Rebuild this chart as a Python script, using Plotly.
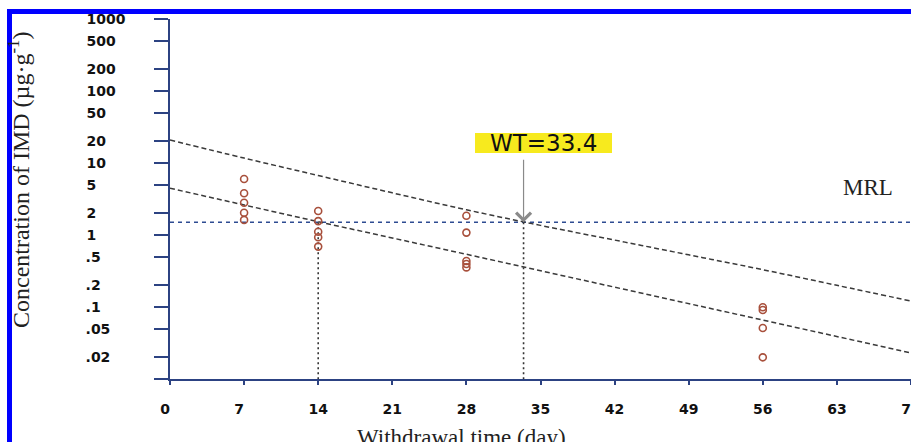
import math
import plotly.graph_objects as go

# ---------------- data ----------------
obs_day = [7, 7, 7, 7, 7, 14, 14, 14, 14, 14, 28, 28, 28, 28, 28, 56, 56, 56, 56]
obs_conc = [6.0, 3.8, 2.8, 2.04, 1.62,
            2.15, 1.56, 1.11, 0.93, 0.69,
            1.85, 1.08, 0.435, 0.395, 0.355,
            0.099, 0.091, 0.051, 0.020]

fit_day = [0, 14, 28, 42, 56, 70]
fit_conc = [4.46, 1.53, 0.54, 0.19, 0.066, 0.023]

upper_day = [0, 7, 14, 21, 28, 35, 42, 49, 56, 63, 70]
upper_conc = [20.8, 11.7, 6.7, 3.85, 2.24, 1.36, 0.85, 0.53, 0.33, 0.20, 0.121]

mrl_value = 1.5
wt_day = 33.4
fit_cross_day = 14
wt_label = "WT=33.4"
mrl_label = "MRL"

x_tick_vals = [0, 7, 14, 21, 28, 35, 42, 49, 56, 63, 70]
y_tick_vals = [0.01, 0.02, 0.05, 0.1, 0.2, 0.5, 1, 2, 5, 10, 20, 50, 100, 200, 500, 1000]
y_tick_labels = ["", ".02", ".05", ".1", ".2", ".5", "1", "2", "5", "10", "20", "50",
                 "100", "200", "500", "1000"]

x_title = "Withdrawal time (day)"
y_title = "Concentration of IMD (µg·g<sup>-1</sup>)"

# ---------------- styling helpers ----------------
FS = "\u2007"  # figure space (digit width)
PS = "\u2008"  # punctuation space (period width)


def pad_left_aligned(lbl, width=4):
    if not lbl:
        return lbl
    digits = sum(c.isdigit() for c in lbl)
    if "." in lbl:
        return lbl + FS * (width - digits - 1) + PS
    return lbl + FS * (width - digits)


y_text = [pad_left_aligned(t) for t in y_tick_labels]
x_text = [str(v) + (FS if v < 10 else "") for v in x_tick_vals]

W, H = 911, 442
ML, MR, MT, MB = 170, 0, 19, 63
PW, PH = W - ML - MR, H - MT - MB


def px(xp):
    return (xp - ML) / PW


def py(yp):
    return (H - MB - yp) / PH


axis_col = "#2c4282"
tick_font = dict(family="DejaVu Sans", size=14, color="#111111", weight="bold")

fig = go.Figure()

# MRL horizontal line
fig.add_trace(go.Scatter(x=[x_tick_vals[0], x_tick_vals[-1]], y=[mrl_value, mrl_value],
                         mode="lines", line=dict(color="#2e4c92", width=1.5, dash="4px,4px"),
                         hoverinfo="skip", showlegend=False))
# vertical dotted drops
for d in (fit_cross_day, wt_day):
    fig.add_trace(go.Scatter(x=[d, d], y=[mrl_value, y_tick_vals[0]], mode="lines",
                             line=dict(color="#333333", width=1.6, dash="2px,3px"),
                             hoverinfo="skip", showlegend=False))
# regression and upper tolerance lines
fig.add_trace(go.Scatter(x=fit_day, y=fit_conc, mode="lines",
                         line=dict(color="#3a3a3a", width=1.5, dash="5px,3px"),
                         showlegend=False))
fig.add_trace(go.Scatter(x=upper_day, y=upper_conc, mode="lines", line_shape="spline",
                         line=dict(color="#3a3a3a", width=1.5, dash="5px,3px"),
                         showlegend=False))
# observations
fig.add_trace(go.Scatter(x=obs_day, y=obs_conc, mode="markers",
                         marker=dict(symbol="circle-open", size=7, color="#a8503c",
                                     line=dict(width=1.6, color="#a8503c")),
                         showlegend=False))

fig.update_xaxes(range=[0, 70], showgrid=False, zeroline=False, showline=True,
                 linecolor=axis_col, linewidth=1.5, ticks="outside", ticklen=4,
                 tickwidth=1.5, tickcolor=axis_col, tickvals=x_tick_vals, ticktext=x_text,
                 tickfont=tick_font, ticklabelstandoff=12, ticklabeloverflow="allow",
                 automargin=False)
fig.update_yaxes(type="log", range=[-2, 3], showgrid=False, zeroline=False, showline=True,
                 linecolor=axis_col, linewidth=1.5, ticks="outside", ticklen=14,
                 tickwidth=1.5, tickcolor=axis_col, tickvals=y_tick_vals, ticktext=y_text,
                 tickfont=tick_font, ticklabelstandoff=26, automargin=False)

shapes = [
    # blue picture frame (top and left bands)
    dict(type="rect", xref="paper", yref="paper", x0=px(7), x1=px(W + 5), y0=py(14), y1=py(9),
         fillcolor="#0000ff", line=dict(width=0), layer="above"),
    dict(type="rect", xref="paper", yref="paper", x0=px(7), x1=px(12), y0=py(H + 10), y1=py(9),
         fillcolor="#0000ff", line=dict(width=0), layer="above"),
    # yellow label background
    dict(type="rect", xref="paper", yref="paper", x0=px(475), x1=px(612), y0=py(153), y1=py(133),
         fillcolor="#f7ea1e", line=dict(width=0), layer="below"),
]

annotations = [
    dict(text=wt_label, xref="paper", yref="paper", x=px(543), y=py(143), showarrow=False,
         font=dict(family="DejaVu Sans", size=23, color="#111111"), xanchor="center", yanchor="middle"),
    dict(text="", x=wt_day, y=math.log10(mrl_value), xref="x", yref="y", showarrow=True,
         ax=0, ay=-64, arrowhead=4, arrowsize=2.4, arrowwidth=1.2, arrowcolor="#8a8a8a", standoff=0),
    dict(text=mrl_label, xref="paper", yref="paper", x=px(868), y=py(187), showarrow=False,
         font=dict(family="Liberation Serif", size=23, color="#222222"), xanchor="center", yanchor="middle"),
    dict(text=x_title, xref="paper", yref="paper", x=px(461), y=py(437), showarrow=False,
         font=dict(family="Liberation Serif", size=23, color="#222222"), xanchor="center", yanchor="middle"),
    dict(text=y_title, xref="paper", yref="paper", x=px(19), y=py(180), showarrow=False, textangle=-90,
         font=dict(family="Liberation Serif", size=24, color="#222222"), xanchor="center", yanchor="middle"),
]

fig.update_layout(width=W, height=H, margin=dict(l=ML, r=MR, t=MT, b=MB, autoexpand=False),
                  paper_bgcolor="white", plot_bgcolor="white",
                  shapes=shapes, annotations=annotations, showlegend=False)

fig.write_html("out.html", config={"displayModeBar": False},
               post_script="document.body.style.margin='0';document.body.style.overflow='hidden';")
